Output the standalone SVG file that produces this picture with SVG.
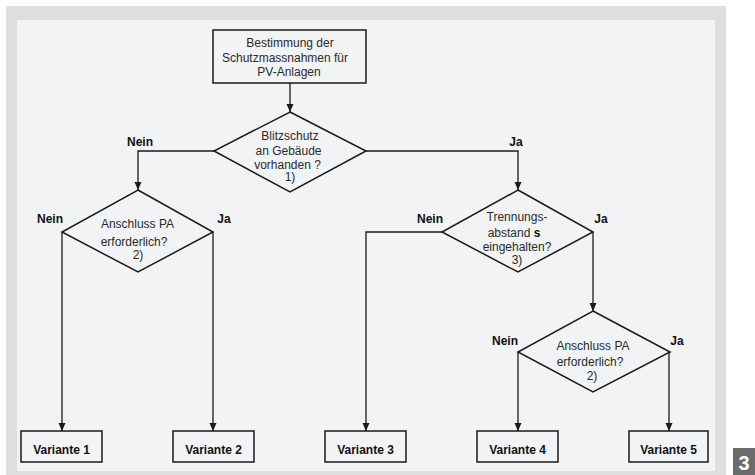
<svg xmlns="http://www.w3.org/2000/svg" width="755" height="475" viewBox="0 0 755 475">
<defs>
<style>
.ln{fill:none;stroke:#1a1a1a;stroke-width:1.3}
.sh{fill:none;stroke:#1a1a1a;stroke-width:1.5}
.t{font-family:"Liberation Sans",Arial,sans-serif;font-size:12px;fill:#2a2a2a;text-anchor:middle}
.b{font-family:"Liberation Sans",Arial,sans-serif;font-size:12px;font-weight:bold;fill:#111;text-anchor:middle}
</style>
<marker id="ah" viewBox="0 0 8 8" refX="8" refY="4" markerWidth="8" markerHeight="8" markerUnits="userSpaceOnUse" orient="auto">
<path d="M0,0.5 L8,4 L0,7.5 z" fill="#1a1a1a"/>
</marker>
</defs>
<rect x="0" y="0" width="755" height="475" fill="#ffffff"/>
<rect x="6" y="6" width="720" height="469" fill="#dddfde"/>
<rect x="17" y="20" width="698" height="451" fill="#f2f3f4"/>

<g id="connectors">
<path class="ln" d="M290,83 V112" marker-end="url(#ah)"/>
<path class="ln" d="M214,151 H138 V190" marker-end="url(#ah)"/>
<path class="ln" d="M366,151 H518 V190" marker-end="url(#ah)"/>
<path class="ln" d="M62,232 V431" marker-end="url(#ah)"/>
<path class="ln" d="M213,232 V431" marker-end="url(#ah)"/>
<path class="ln" d="M442,232 H366 V431" marker-end="url(#ah)"/>
<path class="ln" d="M593,232 V311" marker-end="url(#ah)"/>
<path class="ln" d="M518,352 V431" marker-end="url(#ah)"/>
<path class="ln" d="M669,352 V431" marker-end="url(#ah)"/>
<text class="b" x="140" y="146">Nein</text>
<text class="b" x="516" y="146">Ja</text>
<text class="b" x="50" y="223">Nein</text>
<text class="b" x="224" y="223">Ja</text>
<text class="b" x="430" y="223">Nein</text>
<text class="b" x="601" y="223">Ja</text>
<text class="b" x="505" y="345">Nein</text>
<text class="b" x="677" y="345">Ja</text>
</g>

<g id="start">
<rect class="sh" x="213" y="30" width="153" height="53" fill="#f2f3f4"/>
<text class="t" x="290" y="47">Bestimmung der</text>
<text class="t" x="285" y="61.5">Schutzmassnahmen für</text>
<text class="t" x="289" y="76">PV-Anlagen</text>
</g>

<g id="d1">
<polygon class="sh" points="290,112 366,151 290,192 214,151"/>
<text class="t" x="290" y="140">Blitzschutz</text>
<text class="t" x="288.5" y="155">an Gebäude</text>
<text class="t" x="287.5" y="168.5">vorhanden ?</text>
<text class="t" x="290" y="181">1)</text>
</g>

<g id="d2">
<polygon class="sh" points="138,190 213,232 138,272 62,232"/>
<text class="t" x="137.5" y="228">Anschluss PA</text>
<text class="t" x="134" y="246">erforderlich?</text>
<text class="t" x="138" y="259">2)</text>
</g>

<g id="d3">
<polygon class="sh" points="518,190 593,232 518,272 442,232"/>
<text class="t" x="517" y="221">Trennungs-</text>
<text class="t" x="514" y="236.5">abstand <tspan font-weight="bold" fill="#111">s</tspan></text>
<text class="t" x="517" y="251">eingehalten?</text>
<text class="t" x="517" y="264">3)</text>
</g>

<g id="d4">
<polygon class="sh" points="593,311 670,352 593,392 518,352"/>
<text class="t" x="593" y="350">Anschluss PA</text>
<text class="t" x="590" y="365.5">erforderlich?</text>
<text class="t" x="592" y="380">2)</text>
</g>

<g id="v1"><rect class="sh" x="21" y="431" width="81" height="31" fill="#f2f3f4"/><text class="b" x="61.5" y="454">Variante 1</text></g>
<g id="v2"><rect class="sh" x="173" y="431" width="81" height="31" fill="#f2f3f4"/><text class="b" x="213.5" y="454">Variante 2</text></g>
<g id="v3"><rect class="sh" x="325" y="431" width="81" height="31" fill="#f2f3f4"/><text class="b" x="365.5" y="454">Variante 3</text></g>
<g id="v4"><rect class="sh" x="477" y="431" width="81" height="31" fill="#f2f3f4"/><text class="b" x="517.5" y="454">Variante 4</text></g>
<g id="v5"><rect class="sh" x="629" y="431" width="79" height="31" fill="#f2f3f4"/><text class="b" x="668.5" y="454">Variante 5</text></g>

<g id="badge">
<rect x="733" y="448" width="22" height="27" fill="#6b6b6b"/>
<text x="744" y="470" font-family="Liberation Sans,Arial,sans-serif" font-size="20" font-weight="bold" fill="#ffffff" text-anchor="middle">3</text>
</g>
</svg>
